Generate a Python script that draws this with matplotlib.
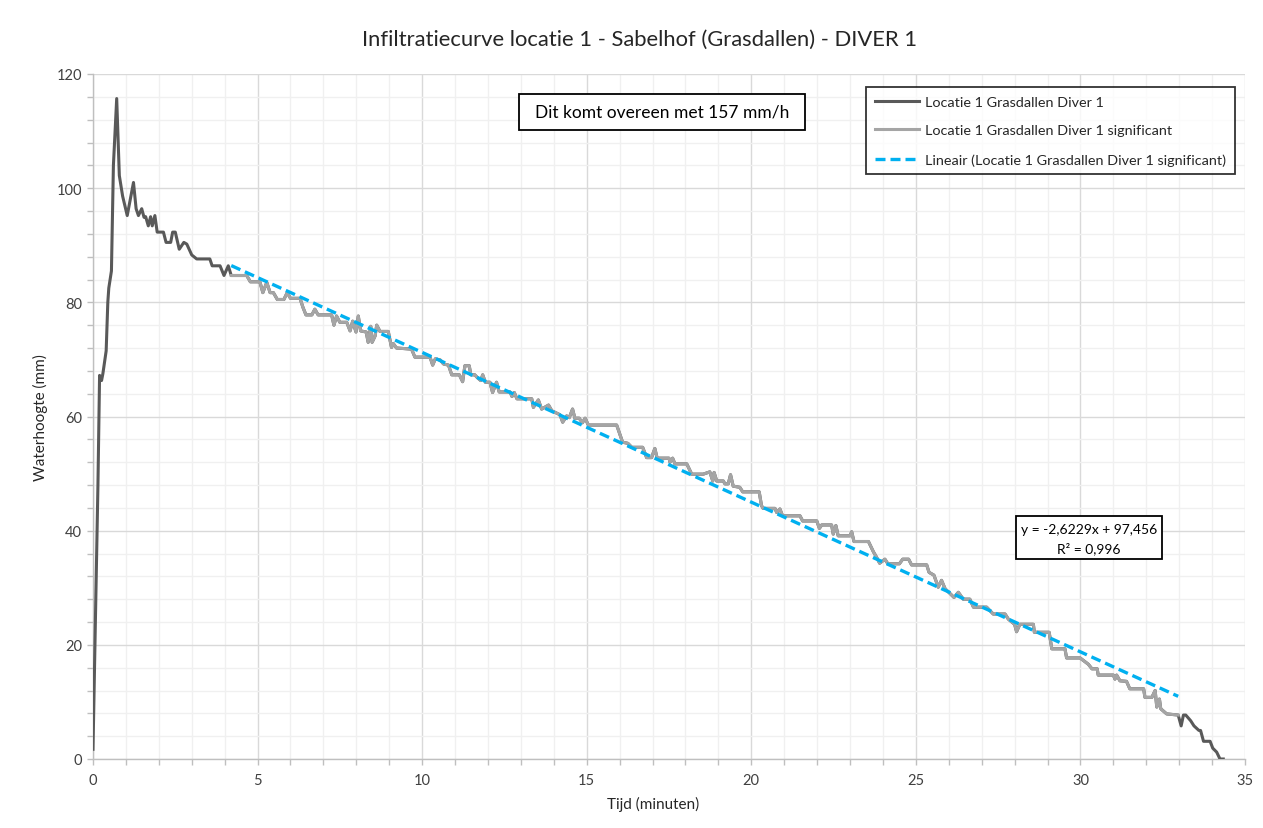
import matplotlib
matplotlib.use("Agg")
import matplotlib.pyplot as plt
from matplotlib.patches import Rectangle
from matplotlib.ticker import MultipleLocator
import numpy as np

plt.rcParams['font.family'] = ['Lato', 'DejaVu Sans']

# ---------------- data ----------------
time_start = [0.0, 0.05, 0.1, 0.15, 0.2, 0.26, 0.3, 0.4, 0.45, 0.48, 0.56, 0.62, 0.72,
              0.8, 0.9, 1.04, 1.23, 1.31, 1.38, 1.48, 1.55, 1.6, 1.68, 1.75, 1.8, 1.88,
              1.95, 2.14, 2.22, 2.36, 2.42, 2.5, 2.62, 2.76, 2.85, 3.0, 3.15, 3.55, 3.62,
              3.86, 3.98, 4.11]
level_start = [1.7, 17, 33, 48, 67.2, 66.3, 67.5, 71.5, 80, 82.5, 85.5, 104, 115.7,
               102.2, 98.6, 95.2, 101, 96.4, 95.2, 96.4, 94.9, 95, 93.4, 95, 93.4, 95.2,
               92.3, 92.3, 90.5, 90.5, 92.3, 92.3, 89.3, 90.5, 90.2, 88.3, 87.6, 87.6, 86.4,
               86.4, 84.7, 86.4]

time_sig = [4.2, 4.67, 4.78, 5.07, 5.16, 5.28, 5.38, 5.48, 5.6, 5.8, 5.9, 6.0, 6.29, 6.38,
            6.47, 6.65, 6.74, 6.84, 7.25, 7.32, 7.4, 7.5, 7.71, 7.81, 7.89, 7.99, 8.06, 8.13,
            8.3, 8.36, 8.44, 8.48, 8.57, 8.62, 8.72, 8.97, 9.07, 9.12, 9.22, 9.68, 9.78,
            10.24, 10.32, 10.4, 10.55, 10.65, 10.8, 10.9, 11.13, 11.23, 11.3, 11.43, 11.48,
            11.6, 11.68, 11.78, 11.84, 11.92, 12.06, 12.14, 12.26, 12.34, 12.67, 12.73, 12.8,
            12.88, 13.33, 13.38, 13.53, 13.63, 13.84, 13.94, 14.19, 14.27, 14.39, 14.47,
            14.57, 14.64, 14.77, 14.87, 14.95, 15.05, 15.91, 16.09, 16.25, 16.37, 16.70,
            16.82, 16.97, 17.07, 17.14, 17.5, 17.53, 17.61, 17.68, 18.04, 18.19, 18.54,
            18.74, 18.83, 18.87, 18.95, 19.15, 19.2, 19.3, 19.37, 19.45, 19.65, 19.74, 20.24,
            20.31, 20.36, 20.72, 20.77, 20.87, 20.95, 21.48, 21.56, 21.99, 22.07, 22.14,
            22.44, 22.49, 22.57, 22.64, 23.0, 23.05, 23.12, 23.56, 23.71, 23.81, 23.9, 24.06,
            24.15, 24.5, 24.6, 24.78, 24.87, 25.33, 25.4, 25.55, 25.68, 25.78, 25.89, 26.0,
            26.16, 26.29, 26.44, 26.64, 26.75, 27.15, 27.25, 27.35, 27.71, 27.81, 28.0,
            28.06, 28.16, 28.57, 28.6, 29.05, 29.13, 29.53, 29.58, 29.99, 30.24, 30.35,
            30.51, 30.54, 31.0, 31.05, 31.1, 31.2, 31.4, 31.5, 31.92, 31.96, 32.17, 32.27,
            32.32, 32.4, 32.44, 32.62, 32.97]
level_sig = [84.7, 84.7, 83.6, 83.6, 81.7, 83.5, 81.7, 81.7, 80.5, 80.5, 81.7, 80.7, 80.7, 79.1,
             77.8, 77.8, 78.8, 77.8, 77.8, 76.0, 77.6, 76.5, 76.5, 75.0, 76.7, 74.8, 77.6, 75.0,
             74.8, 73.0, 75.8, 73.0, 74.1, 76.0, 74.9, 74.9, 72.1, 72.8, 72.0, 71.8, 70.4,
             70.4, 69.0, 70.1, 69.9, 69.2, 69.0, 67.3, 67.3, 66.1, 68.9, 68.9, 67.3,
             67.3, 66.8, 66.3, 67.3, 66.0, 66.0, 64.2, 66.0, 64.3, 64.3, 63.5, 64.2,
             63.1, 63.1, 61.6, 62.9, 61.3, 62.0, 61.0, 60.3, 59.0, 60.1, 59.8,
             61.3, 59.7, 59.7, 58.9, 59.7, 58.5, 58.5, 55.5, 55.3, 54.6, 54.6,
             52.8, 52.8, 54.4, 52.7, 52.7, 52.0, 52.7, 51.7, 51.7, 49.9, 49.9,
             50.3, 48.7, 50.2, 48.7, 48.7, 48.2, 48.2, 49.8, 47.8, 47.6, 46.8, 46.8,
             44.4, 43.9, 43.9, 43.2, 43.8, 42.6, 42.6, 41.7, 41.7, 40.4, 41.0,
             41.0, 39.4, 40.9, 39.1, 39.1, 39.8, 38.1, 38.1, 36.3, 35.3, 34.3, 35.0,
             34.2, 34.2, 35.0, 35.0, 34.0, 34.0, 32.7, 32.2, 30.1, 31.3, 29.8, 29.2,
             28.3, 29.2, 28.0, 28.0, 26.6, 26.6, 26.0, 25.4, 25.4, 24.5, 23.6,
             22.3, 23.6, 23.6, 22.2, 22.2, 19.3, 19.3, 17.7, 17.7, 16.6, 15.8,
             15.8, 14.7, 14.7, 14.0, 14.7, 13.7, 13.6, 12.3, 12.3, 10.8, 10.8, 12.0,
             9.1, 10.5, 8.8, 7.9, 7.7]

time_end = [33.06, 33.13, 33.2, 33.35, 33.45, 33.6, 33.65, 33.74, 33.94, 34.02, 34.14, 34.24, 34.34]
level_end = [5.8, 7.7, 7.7, 6.7, 5.8, 5.0, 5.0, 3.1, 3.1, 1.9, 1.2, 0.0, 0.0]

trend_slope = -2.6229
trend_intercept = 97.456
trend_r2 = 0.996
rate_mm_per_h = 157

x_ticks = [0, 5, 10, 15, 20, 25, 30, 35]
y_ticks = [0, 20, 40, 60, 80, 100, 120]

label_full = "Locatie 1 Grasdallen Diver 1"
label_sig = "Locatie 1 Grasdallen Diver 1 significant"
label_trend = "Lineair (Locatie 1 Grasdallen Diver 1 significant)"

# ---------------- figure ----------------
W, H = 1263, 829
fig = plt.figure(figsize=(W / 100, H / 100), dpi=100)
L, R, T, B = 93, 1245, 75, 760
ax = fig.add_axes([L / W, 1 - B / H, (R - L) / W, (B - T) / H])

time_full = time_start + time_sig + time_end
level_full = level_start + level_sig + level_end

ax.plot(time_full, level_full, color='#595959', lw=2.2, label=label_full, zorder=3,
        solid_joinstyle='round')
ax.plot(time_sig, level_sig, color='#A5A5A5', lw=2.2, label=label_sig, zorder=4,
        solid_joinstyle='round')
tx = np.array([time_sig[0], time_sig[-1]])
ax.plot(tx, trend_slope * tx + trend_intercept, color='#00B0F0', lw=2.4,
        linestyle=(0, (3.0, 1.5)), label=label_trend, zorder=5)

ax.set_xlim(0, 35)
ax.set_ylim(0, 120)
ax.set_xticks(x_ticks)
ax.set_yticks(y_ticks)
ax.xaxis.set_minor_locator(MultipleLocator(1))
ax.yaxis.set_minor_locator(MultipleLocator(4))
ax.grid(which='major', color='#D9D9D9', lw=1.0, zorder=1)
ax.grid(which='minor', color='#F0F0F0', lw=1.0, zorder=0)
ax.set_axisbelow(True)
for s in ['top', 'right']:
    ax.spines[s].set_visible(False)
for s in ['left', 'bottom']:
    ax.spines[s].set_color('#BFBFBF')
    ax.spines[s].set_linewidth(1.0)
ax.tick_params(which='both', direction='out', color='#BFBFBF', length=4, width=1)
ax.tick_params(which='major', labelsize=10.5, labelcolor='#404040', pad=4)
ax.tick_params(axis='x', which='major', pad=6)

ax.set_xlabel("Tijd (minuten)", fontsize=11, color='#262626')
ax.set_ylabel("Waterhoogte (mm)", fontsize=11, color='#262626')
ax.xaxis.set_label_coords((653 - L) / (R - L), -(797 - B) / (B - T))
ax.yaxis.set_label_coords(-(93 - 48) / (R - L), 0.5)

fig.text(640 / W, 1 - 40 / H, "Infiltratiecurve locatie 1 - Sabelhof (Grasdallen) - DIVER 1",
         ha='center', va='center', fontsize=15.8, color='#262626')

# legend
leg = ax.legend(loc='upper left', bbox_to_anchor=((866 - L) / (R - L), (B - 88) / (B - T)),
                fontsize=10.4, frameon=True, fancybox=False, edgecolor='black',
                handlelength=3.1, labelspacing=1.15, borderpad=0.6, handletextpad=0.4,
                borderaxespad=0)
leg.get_frame().set_linewidth(1.3)
for t in leg.get_texts():
    t.set_color('#262626')

def fig_box(x0, y0, x1, y1):
    r = Rectangle((x0 / W, 1 - y1 / H), (x1 - x0) / W, (y1 - y0) / H,
                  transform=fig.transFigure, facecolor='white', edgecolor='black',
                  lw=1.3, zorder=10)
    fig.add_artist(r)

fig_box(519, 95, 805, 131)
fig.text(662 / W, 1 - 113 / H, f"Dit komt overeen met {rate_mm_per_h} mm/h",
         ha='center', va='center', fontsize=12.5, color='black', zorder=11)

fig_box(1016, 517, 1162, 560)
eq = f"y = {trend_slope:.4f}x + {trend_intercept:.3f}".replace('.', ',')
r2 = f"R² = {trend_r2:.3f}".replace('.', ',')
fig.text(1089 / W, 1 - 530 / H, eq, ha='center', va='center', fontsize=10, zorder=11)
fig.text(1089 / W, 1 - 549 / H, r2, ha='center', va='center', fontsize=10, zorder=11)

fig.savefig("out.png", dpi=100, facecolor='white')
